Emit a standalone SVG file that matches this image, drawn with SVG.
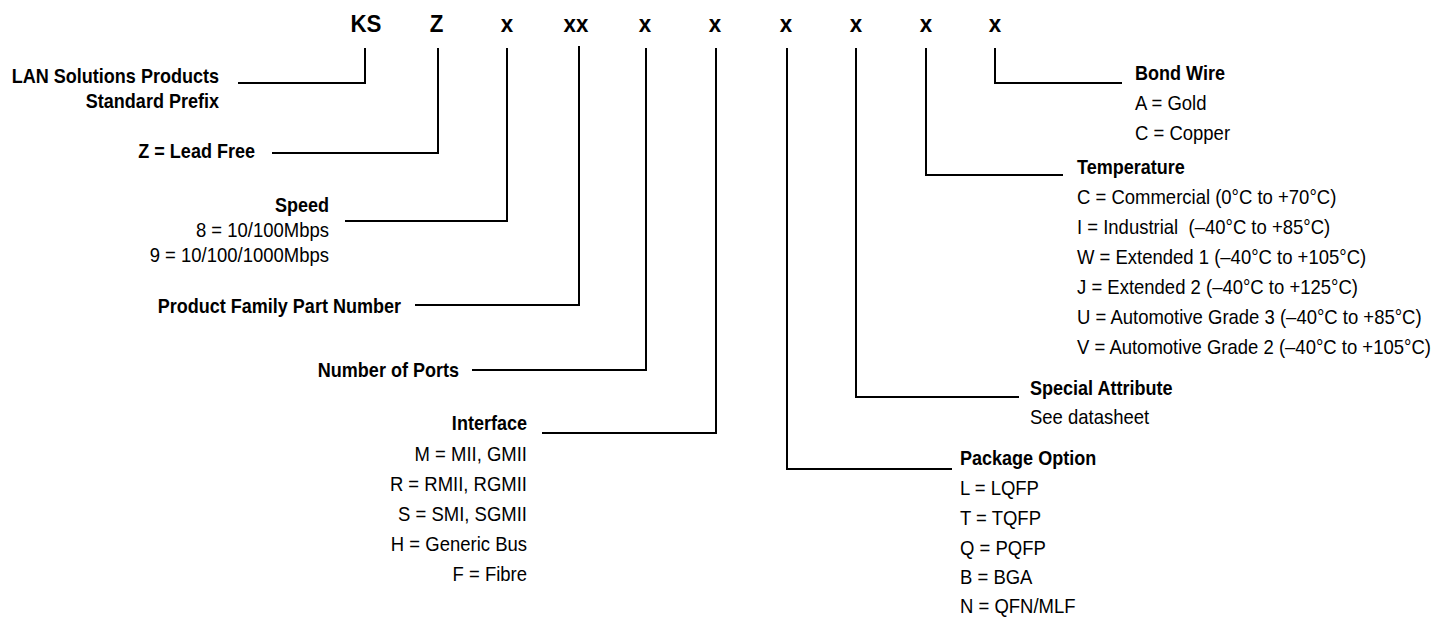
<svg xmlns="http://www.w3.org/2000/svg" width="1448" height="617" viewBox="0 0 1448 617">
<style>
.code{font-family:"Liberation Sans",Arial,sans-serif;font-weight:bold;font-size:24px;fill:#000;text-anchor:middle}
.b{font-family:"Liberation Sans",Arial,sans-serif;font-weight:bold;font-size:19.5px;fill:#000}
.r{font-family:"Liberation Sans",Arial,sans-serif;font-size:20px;fill:#000}
.end{text-anchor:end}
.ln{stroke:#000;stroke-width:2;fill:none;stroke-linejoin:miter}
</style>
<rect width="1448" height="617" fill="#fff"/>
<g id="code" transform="scale(0.93,1)">
<text class="code" x="393.5" y="32">KS</text>
<text class="code" x="469.5" y="32">Z</text>
<text class="code" x="545.2" y="32">x</text>
<text class="code" x="619.4" y="32">xx</text>
<text class="code" x="693.5" y="32">x</text>
<text class="code" x="768.8" y="32">x</text>
<text class="code" x="845.2" y="32">x</text>
<text class="code" x="920.4" y="32">x</text>
<text class="code" x="995.7" y="32">x</text>
<text class="code" x="1069.9" y="32">x</text>
</g>
<g id="connectors">
<path class="ln" d="M365,48 V83 H238"/>
<path class="ln" d="M438,48 V153 H272"/>
<path class="ln" d="M507,48 V221 H345"/>
<path class="ln" d="M579,46 V305 H415"/>
<path class="ln" d="M646,48 V370 H472"/>
<path class="ln" d="M716,48 V433 H542"/>
<path class="ln" d="M787,48 V469 H952"/>
<path class="ln" d="M856,48 V397 H1019"/>
<path class="ln" d="M926,48 V175 H1063"/>
<path class="ln" d="M995,48 V83 H1122"/>
</g>
<g id="prefix" transform="translate(219,0) scale(0.925,1)">
<text class="b end" x="0" y="83">LAN Solutions Products</text>
<text class="b end" x="0" y="108">Standard Prefix</text>
</g>
<g id="leadfree" transform="translate(255,0) scale(0.925,1)">
<text class="b end" x="0" y="158">Z = Lead Free</text>
</g>
<g id="speed" transform="translate(329,0) scale(0.925,1)">
<text class="b end" x="0" y="212">Speed</text>
<text class="r end" x="0" y="237">8 = 10/100Mbps</text>
<text class="r end" x="0" y="262">9 = 10/100/1000Mbps</text>
</g>
<g id="family" transform="translate(401,0) scale(0.925,1)">
<text class="b end" x="0" y="313">Product Family Part Number</text>
</g>
<g id="ports" transform="translate(459,0) scale(0.925,1)">
<text class="b end" x="0" y="377">Number of Ports</text>
</g>
<g id="interface" transform="translate(527,0) scale(0.925,1)">
<text class="b end" x="0" y="430">Interface</text>
<text class="r end" x="0" y="461">M = MII, GMII</text>
<text class="r end" x="0" y="491">R = RMII, RGMII</text>
<text class="r end" x="0" y="521">S = SMI, SGMII</text>
<text class="r end" x="0" y="551">H = Generic Bus</text>
<text class="r end" x="0" y="581">F = Fibre</text>
</g>
<g id="package" transform="translate(960,0) scale(0.925,1)">
<text class="b" x="0" y="465">Package Option</text>
<text class="r" x="0" y="495">L = LQFP</text>
<text class="r" x="0" y="525">T = TQFP</text>
<text class="r" x="0" y="555">Q = PQFP</text>
<text class="r" x="0" y="584">B = BGA</text>
<text class="r" x="0" y="613">N = QFN/MLF</text>
</g>
<g id="special" transform="translate(1030,0) scale(0.925,1)">
<text class="b" x="0" y="395">Special Attribute</text>
<text class="r" x="0" y="424">See datasheet</text>
</g>
<g id="temperature" transform="translate(1077,0) scale(0.925,1)">
<text class="b" x="0" y="174">Temperature</text>
<text class="r" x="0" y="204">C = Commercial (0°C to +70°C)</text>
<text class="r" x="0" y="234" xml:space="preserve">I = Industrial  (–40°C to +85°C)</text>
<text class="r" x="0" y="264">W = Extended 1 (–40°C to +105°C)</text>
<text class="r" x="0" y="294">J = Extended 2 (–40°C to +125°C)</text>
<text class="r" x="0" y="324">U = Automotive Grade 3 (–40°C to +85°C)</text>
<text class="r" x="0" y="354">V = Automotive Grade 2 (–40°C to +105°C)</text>
</g>
<g id="bondwire" transform="translate(1135,0) scale(0.925,1)">
<text class="b" x="0" y="80">Bond Wire</text>
<text class="r" x="0" y="110">A = Gold</text>
<text class="r" x="0" y="140">C = Copper</text>
</g>
</svg>
